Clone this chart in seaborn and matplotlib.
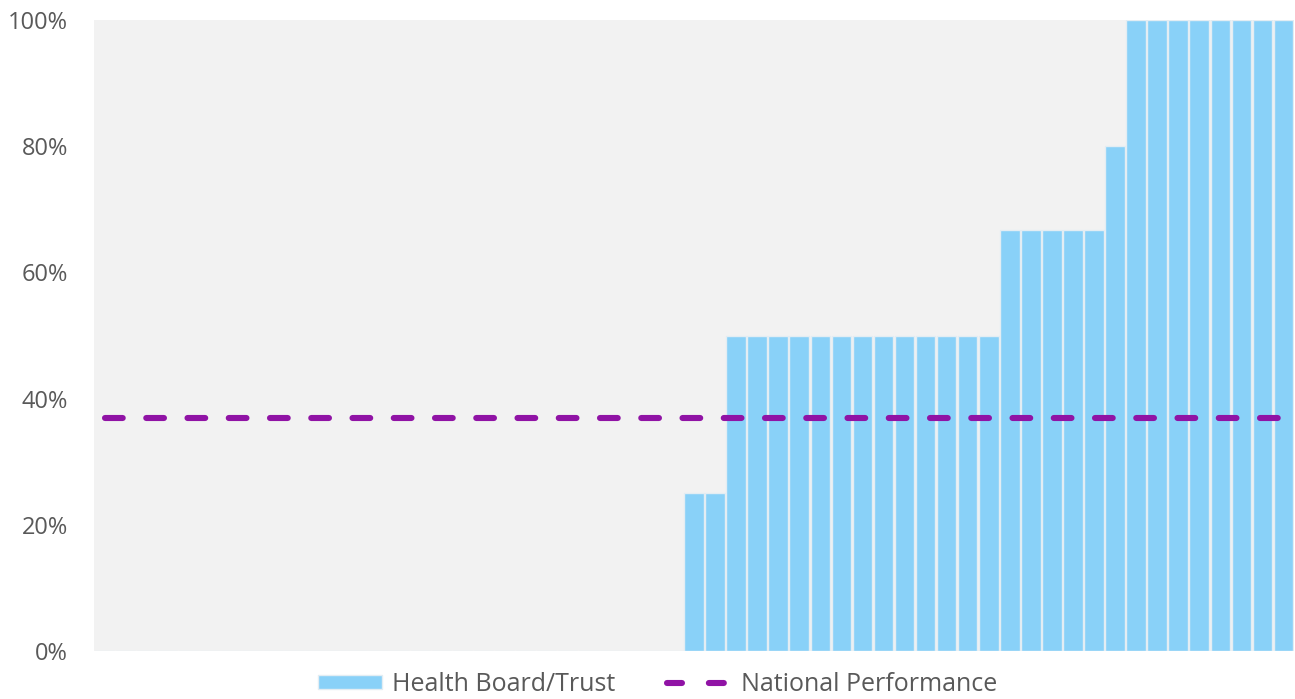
import matplotlib
matplotlib.use("Agg")
import matplotlib.pyplot as plt
import seaborn as sns
import pandas as pd
from matplotlib.patches import Patch
from matplotlib.lines import Line2D
from matplotlib.ticker import PercentFormatter

# ---- data ----
orgs = [f"Org {i+1}" for i in range(57)]
values = [0.0] * 28 + [0.25, 0.25] + [0.5] * 13 + [2/3] * 5 + [0.8] + [1.0] * 8
national = 0.37
yticks = [0, 0.2, 0.4, 0.6, 0.8, 1.0]

bar_color = "#89D1F8"
line_color = "#9013A5"
text_color = "#595959"

sns.set_theme(style="white")
plt.rcParams['font.family'] = ['Open Sans', 'DejaVu Sans']

df = pd.DataFrame({"org": orgs, "value": values})
fig = plt.figure(figsize=(12.95, 6.99), dpi=100)
ax = fig.add_axes([94/1295, 1 - 651/699, 1200/1295, 631/699])
ax.set_facecolor("#F2F2F2")

sns.barplot(data=df, x="org", y="value", color=bar_color, saturation=1,
            width=0.93, edgecolor="#E3EDF3", linewidth=1, ax=ax)
lw = 4.4
sns.lineplot(x=list(range(len(orgs))), y=[national] * len(orgs), ax=ax,
             color=line_color, linewidth=lw, dashes=False)
ln = ax.lines[-1]
ln.set_dashes([2.9, 3.85])
ln.set_dash_capstyle("round")

ax.set_xlim(-0.5, len(orgs) - 0.5)
ax.set_ylim(0, 1)
ax.set_yticks(yticks)
ax.yaxis.set_major_formatter(PercentFormatter(1.0, decimals=0))
ax.set_xticks([])
ax.set_xlabel("")
ax.set_ylabel("")
for s in ax.spines.values():
    s.set_visible(False)
ax.tick_params(axis="y", length=0, pad=18.7, labelsize=17, labelcolor=text_color)

handles = [Patch(facecolor=bar_color, edgecolor="#E3EDF3", label="Health Board/Trust"),
           Line2D([0], [0], color=line_color, linewidth=lw, linestyle=(0, (2.45, 4.4)),
                  dash_capstyle="round", label="National Performance")]
leg = fig.legend(handles=handles, loc="lower center", ncol=2, frameon=False,
                 bbox_to_anchor=(657.5/1295, -0.029), fontsize=18, labelcolor=text_color,
                 handlelength=2.56, handleheight=0.48, columnspacing=2.1, handletextpad=0.4)

fig.savefig("out.png", dpi=100)
